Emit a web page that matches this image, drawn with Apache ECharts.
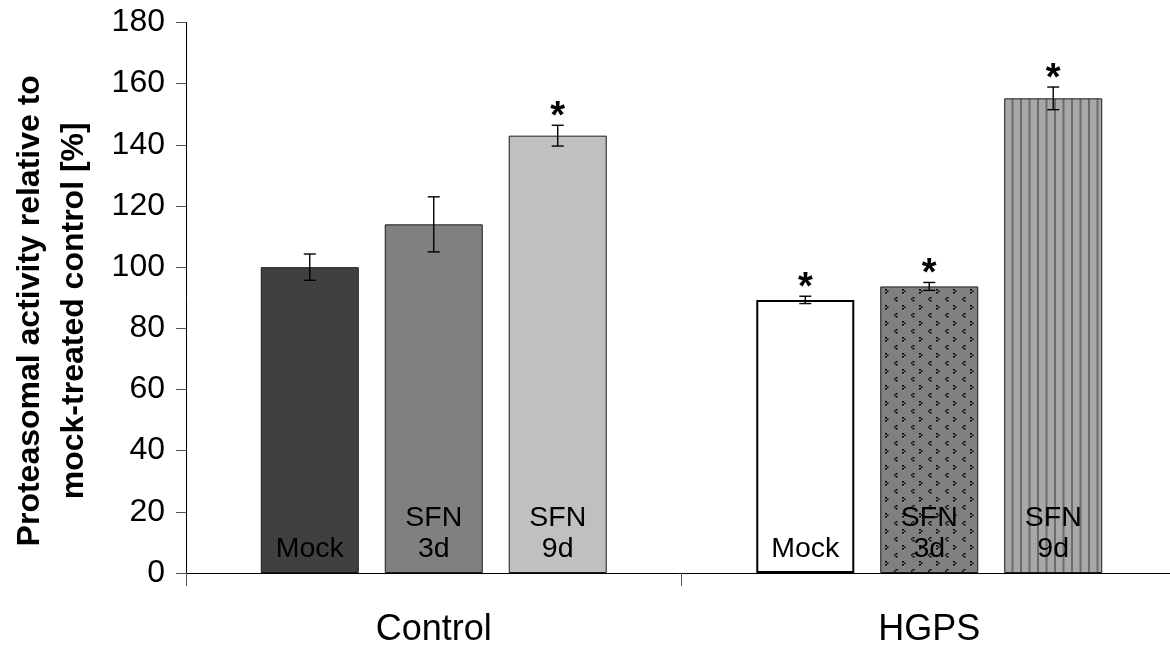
<!DOCTYPE html>
<html>
<head>
<meta charset="utf-8">
<script src="https://cdn.jsdelivr.net/npm/echarts@6/dist/echarts.min.js"></script>
<style>
  html, body { margin: 0; padding: 0; background: #ffffff; }
  #chart { width: 1170px; height: 646px; }
</style>
</head>
<body>
<div id="chart"></div>
<script>
// Cell lines and treatments
const groups = ['Control', 'HGPS'];
const treatments = ['Mock', 'SFN 3d', 'SFN 9d'];
const barLabels = ['Mock', 'SFN\n3d', 'SFN\n9d'];

// Proteasomal activity (% of mock-treated control), one value per cell line
const mockValues = [100, 89.3];
const sfn3dValues = [114, 93.7];
const sfn9dValues = [143, 155.2];

// Error bar half-widths
const mockErrors = [4.3, 1.2];
const sfn3dErrors = [9.0, 1.3];
const sfn9dErrors = [3.4, 3.7];

// Significance marks (1 = asterisk)
const mockSignificant = [0, 1];
const sfn3dSignificant = [0, 1];
const sfn9dSignificant = [1, 1];

// Y axis
const yMin = 0, yMax = 180, yStep = 20;

const FONT = "'Liberation Sans', Arial, sans-serif";
const BAR_WIDTH = 98;
const BAR_GAP = 0.265;

// Fill patterns for the HGPS treated bars
function dottedPattern() {
  const c = document.createElement('canvas');
  c.width = 17; c.height = 16;
  const g = c.getContext('2d');
  g.fillStyle = '#808080';
  g.fillRect(0, 0, 17, 16);
  g.fillStyle = '#000000';
  // ">" mark
  g.fillRect(1, 1, 2, 1.5); g.fillRect(3, 2.5, 1.5, 1.5); g.fillRect(1, 4, 2, 1.5);
  // "<" mark
  g.fillRect(11.5, 9, 2, 1.5); g.fillRect(10, 10.5, 1.5, 1.5); g.fillRect(11.5, 12, 2, 1.5);
  return c;
}
function stripePattern() {
  const c = document.createElement('canvas');
  c.width = 17; c.height = 4;
  const g = c.getContext('2d');
  g.fillStyle = '#a8a8a8';
  g.fillRect(0, 0, 17, 4);
  g.fillStyle = '#6c6c6c';
  g.fillRect(0, 0, 2, 4);
  g.fillRect(8.5, 0, 2, 4);
  return c;
}

// Per-bar appearance: [Control, HGPS] for each treatment
const barStyles = [
  [{ color: '#404040', borderColor: '#1a1a1a', borderWidth: 1 },
   { color: '#ffffff', borderColor: '#000000', borderWidth: 2 }],
  [{ color: '#808080', borderColor: '#1a1a1a', borderWidth: 1 },
   { color: { image: dottedPattern(), repeat: 'repeat' }, borderColor: '#1a1a1a', borderWidth: 1 }],
  [{ color: '#c0c0c0', borderColor: '#1a1a1a', borderWidth: 1 },
   { color: { image: stripePattern(), repeat: 'repeat' }, borderColor: '#1a1a1a', borderWidth: 1 }]
];

const valueSets = [mockValues, sfn3dValues, sfn9dValues];
const errorSets = [mockErrors, sfn3dErrors, sfn9dErrors];
const sigSets = [mockSignificant, sfn3dSignificant, sfn9dSignificant];

const barSeries = treatments.map((name, t) => ({
  name: name,
  type: 'bar',
  barWidth: BAR_WIDTH,
  barGap: (BAR_GAP * 100) + '%',
  data: valueSets[t].map((v, gi) => ({ value: v, itemStyle: barStyles[t][gi] })),
  label: {
    show: true,
    position: 'insideBottom',
    distance: 8,
    formatter: barLabels[t],
    color: '#000000',
    fontFamily: FONT,
    fontSize: 28.5,
    lineHeight: 31
  },
  silent: true,
  z: 2
}));

// Error bars with significance asterisks, drawn at each bar's centre
function errorRenderer(t) {
  return function (params, api) {
    const gi = api.value(0);
    const v = api.value(1);
    const e = api.value(2);
    const sig = api.value(3);
    const top = api.coord([gi, v + e]);
    const bottom = api.coord([gi, v - e]);
    const x = top[0] + (t - 1) * BAR_WIDTH * (1 + BAR_GAP);
    const cap = 6;
    const style = { stroke: '#000000', lineWidth: 1.4 };
    const children = [
      { type: 'line', shape: { x1: x, y1: top[1], x2: x, y2: bottom[1] }, style: style },
      { type: 'line', shape: { x1: x - cap, y1: top[1], x2: x + cap, y2: top[1] }, style: style },
      { type: 'line', shape: { x1: x - cap, y1: bottom[1], x2: x + cap, y2: bottom[1] }, style: style }
    ];
    if (sig) {
      children.push({
        type: 'text',
        style: {
          x: x, y: top[1] - 8, text: '*',
          fill: '#000000', font: 'bold 38px ' + FONT,
          textAlign: 'center', textVerticalAlign: 'middle'
        }
      });
    }
    return { type: 'group', children: children };
  };
}

const errorSeries = treatments.map((name, t) => ({
  name: name + ' error',
  type: 'custom',
  renderItem: errorRenderer(t),
  data: groups.map((g, gi) => [gi, valueSets[t][gi], errorSets[t][gi], sigSets[t][gi]]),
  silent: true,
  z: 5
}));

const chart = echarts.init(document.getElementById('chart'), null, { renderer: 'canvas' });
chart.setOption({
  backgroundColor: '#ffffff',
  animation: false,
  grid: { left: 186, top: 22.5, width: 991, height: 550.5, containLabel: false, outerBoundsMode: 'none' },
  xAxis: {
    type: 'category',
    data: groups,
    axisLine: { lineStyle: { color: '#000000', width: 1 } },
    axisTick: { show: true, length: 13, lineStyle: { color: '#555555' } },
    axisLabel: { color: '#000000', fontFamily: FONT, fontSize: 36, margin: 39 }
  },
  yAxis: {
    type: 'value',
    min: yMin, max: yMax, interval: yStep,
    name: 'Proteasomal activity relative to\nmock-treated control [%]',
    nameLocation: 'middle',
    nameRotate: 90,
    nameGap: 90,
    nameTextStyle: {
      color: '#000000', fontFamily: FONT, fontSize: 32, fontWeight: 'bold', lineHeight: 44,
      padding: [0, 26, 0, 0]
    },
    axisLine: { show: true, lineStyle: { color: '#000000', width: 1 } },
    axisTick: { show: true, length: 10, lineStyle: { color: '#555555' } },
    splitLine: { show: false },
    axisLabel: { color: '#000000', fontFamily: FONT, fontSize: 32, margin: 21 }
  },
  series: barSeries.concat(errorSeries)
});
</script>
</body>
</html>
